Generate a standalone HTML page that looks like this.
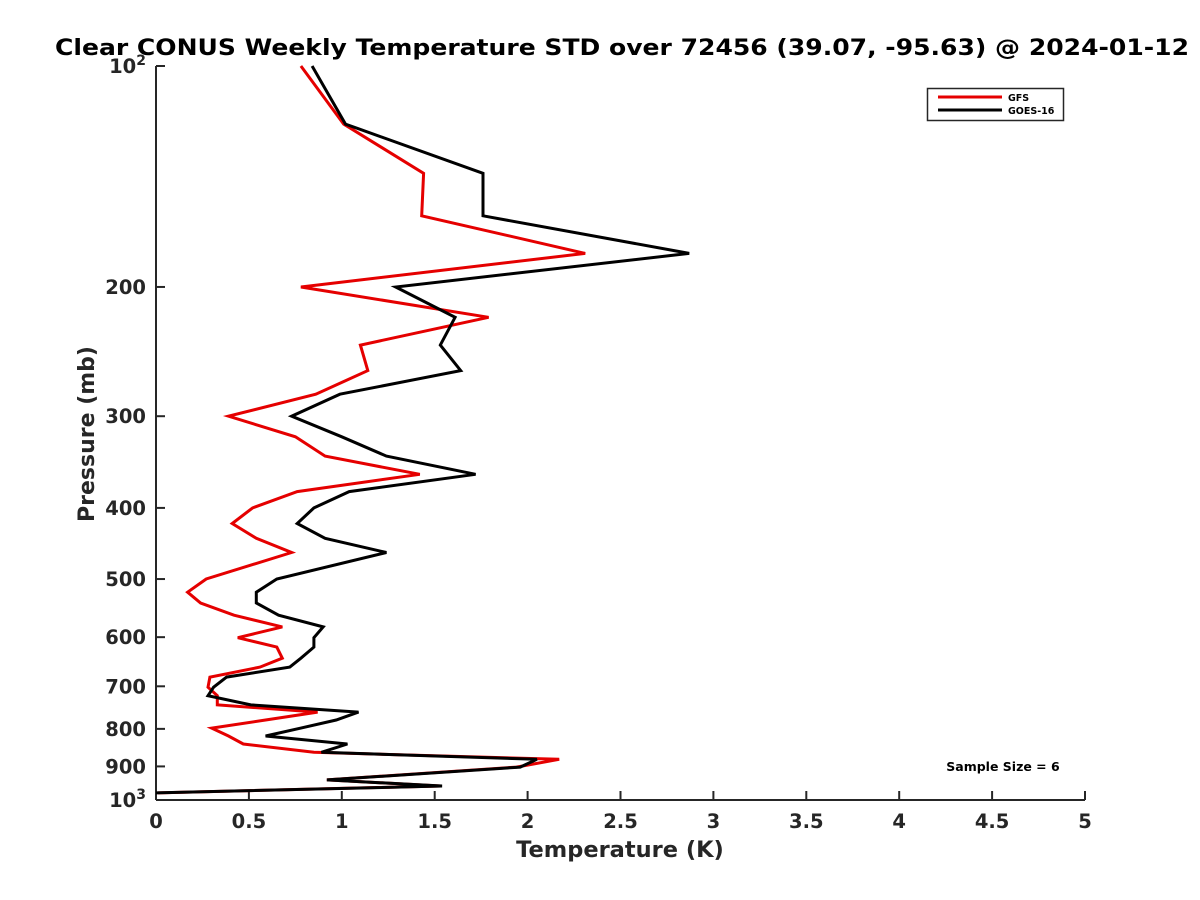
<!DOCTYPE html>
<html><head><meta charset="utf-8"><style>
body{margin:0;background:#fff;}
svg{display:block;font-family:"DejaVu Sans","Liberation Sans",sans-serif;}
</style></head><body>
<svg id="chart" width="1200" height="900" viewBox="0 0 1200 900">
<rect width="1200" height="900" fill="#fff"/>
<text x="622" y="55" text-anchor="middle" font-size="22" font-weight="bold" fill="#000" textLength="1134" lengthAdjust="spacingAndGlyphs">Clear CONUS Weekly Temperature STD over 72456 (39.07, -95.63) @ 2024-01-12</text>
<g id="axes"></g>
<g id="series"></g>
<text x="620" y="857" text-anchor="middle" font-size="22.5" font-weight="bold" fill="#262626">Temperature (K)</text>
<text transform="translate(94,434) rotate(-90)" text-anchor="middle" font-size="22" font-weight="bold" fill="#262626">Pressure (mb)</text>
<g>
<rect x="927.5" y="88.5" width="136" height="32" fill="#fff" stroke="#262626" stroke-width="1.5"/>
<line x1="938" y1="97" x2="1002" y2="97" stroke="#e50000" stroke-width="3"/>
<text x="1008" y="101" font-size="9.5" font-weight="bold">GFS</text>
<line x1="938" y1="110" x2="1002" y2="110" stroke="#000" stroke-width="3"/>
<text x="1008" y="114" font-size="9.5" font-weight="bold">GOES-16</text>
</g>
<text x="1003" y="771" text-anchor="middle" font-size="12.5" font-weight="bold">Sample Size = 6</text>
</svg>
<script>
const pressures=[100,120,140,160,180,200,220,240,260,280,300,320,340,360,380,400,420,440,460,500,521,539,560,581,601,619,641,659,680,702,721,742,759,778,798,818,839,861,880,902,939,957,978];
const gfsValues=[0.78,1.01,1.44,1.43,2.31,0.78,1.79,1.10,1.14,0.86,0.39,0.75,0.91,1.42,0.76,0.52,0.41,0.54,0.73,0.27,0.17,0.24,0.42,0.68,0.44,0.65,0.68,0.56,0.29,0.28,0.33,0.33,0.87,0.59,0.30,0.39,0.47,0.85,2.17,1.94,0.92,1.53,0.01];
const goesValues=[0.84,1.02,1.76,1.76,2.87,1.29,1.61,1.53,1.64,0.99,0.73,1.00,1.24,1.72,1.04,0.85,0.76,0.91,1.24,0.65,0.54,0.54,0.66,0.90,0.85,0.85,0.78,0.72,0.38,0.31,0.28,0.51,1.09,0.97,0.78,0.59,1.03,0.89,2.05,1.96,0.92,1.54,0];
const xTicks=[0,0.5,1,1.5,2,2.5,3,3.5,4,4.5,5];
const xTickLabels=["0","0.5","1","1.5","2","2.5","3","3.5","4","4.5","5"];
const yTicks=[100,200,300,400,500,600,700,800,900,1000];
const yTickLabels=["10^2","200","300","400","500","600","700","800","900","10^3"];

const X0=156,X1=1085,Y0=66,Y1=800;
const xs=v=>X0+(v-0)/(5-0)*(X1-X0);
const ys=p=>Y0+(Math.log10(p)-2)*(Y1-Y0);
const NS="http://www.w3.org/2000/svg";
const axes=document.getElementById('axes');
const series=document.getElementById('series');
function mk(tag,attrs,parent){const e=document.createElementNS(NS,tag);for(const k in attrs)e.setAttribute(k,attrs[k]);parent.appendChild(e);return e;}

const yAxis=mk('line',{x1:X0,y1:Y0,x2:X0,y2:Y1,stroke:'#262626','stroke-width':2},axes);


const xAxis=mk('line',{x1:X0,y1:Y1,x2:X1,y2:Y1,stroke:'#262626','stroke-width':2},axes);



xTicks.forEach((v,i)=>{
  const t=mk('line',{x1:xs(v),y1:Y1,x2:xs(v),y2:Y1-9,stroke:'#262626','stroke-width':2},axes);
  
  
  const l=mk('text',{x:xs(v),y:Y1+28,'text-anchor':'middle','font-size':19.5,'font-weight':'bold',fill:'#262626'},axes);
  l.textContent=xTickLabels[i];
  
  
});
yTicks.forEach((p,i)=>{
  const t=mk('line',{x1:X0,y1:ys(p),x2:X0+9,y2:ys(p),stroke:'#262626','stroke-width':2},axes);
  
  
  const lab=yTickLabels[i];
  const l=mk('text',{x:X0-10,y:ys(p)+7,'text-anchor':'end','font-size':19.5,'font-weight':'bold',fill:'#262626'},axes);
  if(lab.includes('^')){
    const [b,e]=lab.split('^');
    const t1=mk('tspan',{},l); t1.textContent=b;
    const t2=mk('tspan',{dy:-8,'font-size':14},l); t2.textContent=e;
  } else {
    l.textContent=lab;
  }
  
  
});

function drawLine(vals,color,name){
  const pts=vals.map((v,i)=>xs(v).toFixed(1)+','+ys(pressures[i]).toFixed(1)).join(' ');
  const pl=mk('polyline',{points:pts,fill:'none',stroke:color,'stroke-width':3,'stroke-linejoin':'miter'},series);
  
  
}
drawLine(gfsValues,'#e50000','gfs-line');
drawLine(goesValues,'#000000','goes16-line');
</script>
</body></html>
